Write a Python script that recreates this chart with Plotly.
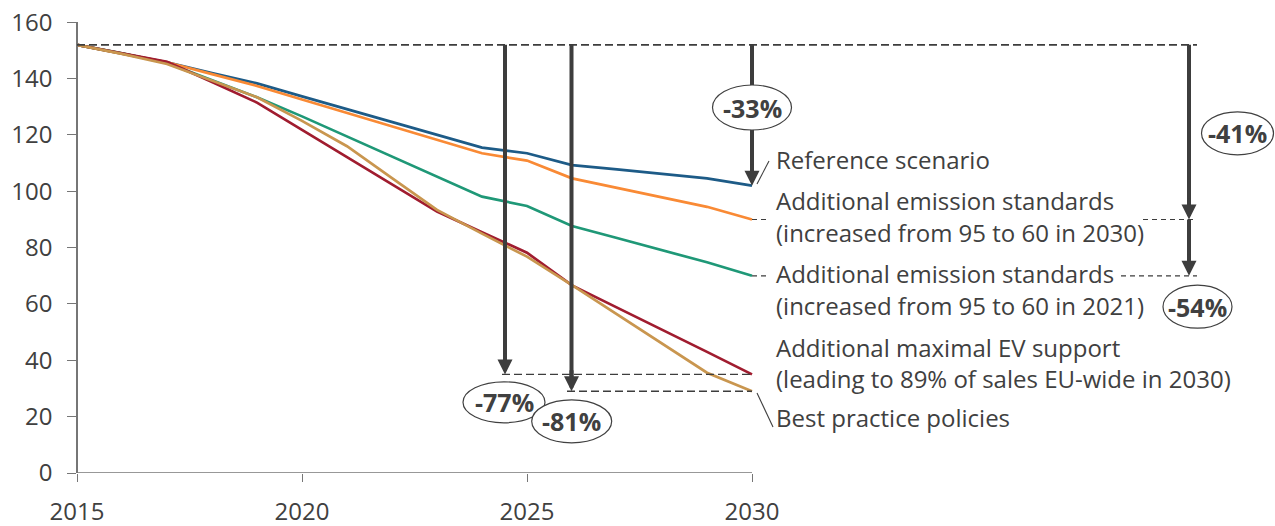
import plotly.graph_objects as go

# Passenger-car CO2 emission pathways (g/km), 2015-2030
years = list(range(2015, 2031))

reference = [152, 149, 145.8, 142, 138.3, 133.7, 129.2, 124.6, 120.1, 115.5,
             113.5, 109.3, 107.8, 106.3, 104.6, 102]
std_2030 = [152, 149, 145.8, 141.6, 137.4, 132.6, 127.8, 123.0, 118.3, 113.5,
            110.9, 104.6, 101.2, 97.9, 94.5, 90]
std_2021 = [152, 149, 145.5, 139.5, 133.4, 126.6, 119.5, 112.3, 105.2, 98.1,
            94.8, 87.7, 83.4, 79.1, 74.8, 70]
ev_support = [152, 149, 146, 138.8, 131.5, 121.8, 112.2, 102.5, 92.8, 85.5,
              78.2, 66.6, 58.8, 50.9, 43.0, 35]
best_practice = [152, 148.8, 145.2, 139.3, 133.4, 125.0, 116.0, 104.7, 93.4, 85.0,
                 76.8, 66.7, 56.3, 45.9, 35.6, 29]

series_names = [
    "Reference scenario",
    "Additional emission standards (increased from 95 to 60 in 2030)",
    "Additional emission standards (increased from 95 to 60 in 2021)",
    "Additional maximal EV support (leading to 89% of sales EU-wide in 2030)",
    "Best practice policies",
]
series_values = [reference, std_2030, std_2021, ev_support, best_practice]
series_colors = ["#1d5b87", "#f98a35", "#1f9877", "#a01c2f", "#c9964f"]

x_ticks = [2015, 2020, 2025, 2030]
y_ticks = [0, 20, 40, 60, 80, 100, 120, 140, 160]

TEXT = "#404040"
AXIS = "#767676"
DARK = "#3d3d3d"
FONT = "Open Sans"
FS = 24

W, H = 1275, 526
PX_PER_YEAR = 45.0
X_LEFT_PX = 77
x_lo = 2015 - X_LEFT_PX / PX_PER_YEAR
x_hi = 2015 + (W - X_LEFT_PX) / PX_PER_YEAR
px_per_unit = (473 - 22.3) / 160.0


def yr(px):
    """Horizontal page pixel -> year on the x axis."""
    return 2015 + (px - X_LEFT_PX) / PX_PER_YEAR


def val(py):
    """Vertical page pixel -> value on the y axis."""
    return (473 - py) / px_per_unit


fig = go.Figure()
for name, vals, color in zip(series_names, series_values, series_colors):
    fig.add_trace(go.Scatter(x=years, y=vals, name=name, mode="lines",
                             line=dict(color=color, width=2.7),
                             hoverinfo="x+y+name"))

start = reference[0]
end_ref, end_2030, end_2021, end_ev, end_best = (v[-1] for v in series_values)


def pct(v):
    return f"{round((v / start - 1) * 100)}%"


shapes = []
annotations = []


def hline(y, x0, x1, dash="8px,4px", width=1.6):
    shapes.append(dict(type="line", xref="x", yref="y", x0=x0, x1=x1, y0=y, y1=y,
                       line=dict(color=DARK, width=width, dash=dash), layer="above"))


def arrow(x, y_from, y_to):
    shapes.append(dict(type="line", xref="x", yref="y", x0=x, x1=x, y0=y_from,
                       y1=y_to + 3, line=dict(color=DARK, width=4), layer="above"))
    annotations.append(dict(x=x, y=y_to, ax=x, ay=y_to + 8, xref="x", yref="y",
                            axref="x", ayref="y", showarrow=True, arrowhead=2,
                            arrowsize=0.75, arrowwidth=4, arrowcolor=DARK,
                            standoff=0, text=""))


def badge(text, xc, yc, w_px, h_px):
    dx = w_px / 2 / PX_PER_YEAR
    dy = h_px / 2 / px_per_unit
    shapes.append(dict(type="circle", xref="x", yref="y", x0=xc - dx, x1=xc + dx,
                       y0=yc - dy, y1=yc + dy, fillcolor="white",
                       line=dict(color=TEXT, width=1.2), layer="above"))
    annotations.append(dict(x=xc, y=yc, xref="x", yref="y", text=f"<b>{text}</b>",
                            showarrow=False, font=dict(family=FONT, size=25, color=TEXT)))


# x axis baseline (only across the data years)
shapes.append(dict(type="line", xref="x", yref="y", x0=2015, x1=2030, y0=0, y1=0,
                   line=dict(color=AXIS, width=1.5), layer="above"))

# 2015 baseline level, dashed across to the right-hand arrow
hline(start, 2015, yr(1197), width=1.8)
# dashed guides at the 2030 end values
hline(end_ev, yr(502), 2030, width=1.4)
hline(end_best, yr(567), 2030, width=1.4)
hline(end_2030, 2030, yr(768), dash="5px,4px", width=1.2)
hline(end_2021, 2030, yr(768), dash="5px,4px", width=1.2)
hline(end_2030, yr(1143), yr(1197), dash="5px,4px", width=1.2)
hline(end_2021, yr(1121), yr(1197), dash="5px,4px", width=1.2)

# reduction arrows
arrow(yr(505), start, end_ev)
arrow(yr(571.5), start, end_best)
arrow(2030, start, end_ref)
arrow(yr(1189), start, end_2030)
arrow(yr(1189), end_2030, end_2021)

# leader lines from line ends to their labels
shapes.append(dict(type="line", xref="x", yref="y", x0=yr(757), y0=val(184),
                   x1=yr(769), y1=val(161), line=dict(color=TEXT, width=1.1), layer="above"))
shapes.append(dict(type="line", xref="x", yref="y", x0=yr(757), y0=val(393),
                   x1=yr(773), y1=val(427), line=dict(color=TEXT, width=1.1), layer="above"))

# percentage badges
badge(pct(end_ref), 2030, val(107.5), 79, 45)
badge(pct(end_2030), yr(1237.5), val(133.3), 72, 43)
badge(pct(end_2021), yr(1197.5), val(306.7), 69, 43)
badge(pct(end_ev), yr(504), val(402.3), 82, 41)
badge(pct(end_best), yr(571.7), val(421.3), 80, 43)

# series labels
label_lines = [
    ("Reference scenario", 160),
    ("Additional emission standards", 201),
    ("(increased from 95 to 60 in 2030)", 233),
    ("Additional emission standards", 273),
    ("(increased from 95 to 60 in 2021)", 305),
    ("Additional maximal EV support", 347),
    ("(leading to 89% of sales EU-wide in 2030)", 378),
    ("Best practice policies", 417),
]
for txt, py in label_lines:
    annotations.append(dict(x=yr(774), y=val(py), xref="x", yref="y", text=txt,
                            showarrow=False, xanchor="left", yanchor="middle",
                            font=dict(family=FONT, size=FS, color=TEXT)))

fig.update_layout(
    width=W, height=H,
    margin=dict(l=0, r=0, t=0, b=0, autoexpand=False),
    paper_bgcolor="white", plot_bgcolor="white",
    showlegend=False,
    font=dict(family=FONT, size=FS, color=TEXT),
    xaxis=dict(range=[x_lo, x_hi], domain=[0, 1], showline=False, showgrid=False,
               zeroline=False, tickvals=x_ticks, ticks="outside", ticklen=8,
               tickwidth=1.3, tickcolor=AXIS, ticklabelstandoff=9,
               automargin=False,
               tickfont=dict(family=FONT, size=FS, color=TEXT)),
    yaxis=dict(range=[0, 160], domain=[(H - 473) / H, (H - 22.3) / H],
               anchor="free", position=X_LEFT_PX / W, showline=True,
               linecolor=AXIS, linewidth=1.5, showgrid=False, zeroline=False,
               tickvals=y_ticks, ticks="outside", ticklen=9, tickwidth=1.3,
               tickcolor=AXIS, ticklabelstandoff=10, automargin=False,
               tickfont=dict(family=FONT, size=FS, color=TEXT)),
    shapes=shapes,
    annotations=annotations,
)

fig.write_html("out.html")
